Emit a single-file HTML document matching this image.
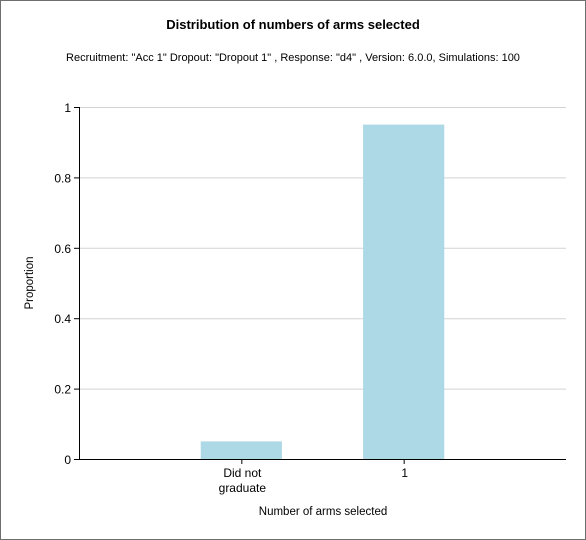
<!DOCTYPE html>
<html><head><meta charset="utf-8"><style>
html,body{margin:0;padding:0;background:#fff;}
svg{display:block;font-family:"Liberation Sans",sans-serif;}
</style></head><body>
<svg id="c" width="586" height="540">
<rect x="0.5" y="0.5" width="585" height="539" fill="#fff" stroke="#6e6e6e"/>
<text x="293" y="29" text-anchor="middle" font-size="13" font-weight="bold" fill="#000">Distribution of numbers of arms selected</text>
<text x="293" y="61" text-anchor="middle" font-size="11" fill="#000">Recruitment: "Acc 1" Dropout: "Dropout 1" , Response: "d4" , Version: 6.0.0, Simulations: 100</text>
<text transform="translate(33,283) rotate(-90)" text-anchor="middle" font-size="11.5">Proportion</text>
<text x="323" y="515" text-anchor="middle" font-size="11.5">Number of arms selected</text>
<g id="g"></g>
</svg>
<script>
const categories = [["Did not","graduate"],["1"]];
const values = [0.05, 0.95];
const yTicks = [0, 0.2, 0.4, 0.6, 0.8, 1];
const yTickLabels = ["0","0.2","0.4","0.6","0.8","1"];
const NS = "http://www.w3.org/2000/svg";
const g = document.getElementById('g');
const L = 79, R = 566, T = 107, B = 459;
const slot = (R - L) / (categories.length + 1);
function y(v){ return B - v * (B - T); }
function x(i){ return L + slot * (i + 1); }
function mk(tag, attrs){ const e = document.createElementNS(NS, tag); for (const k in attrs) e.setAttribute(k, attrs[k]); g.appendChild(e); return e; }
yTicks.forEach((t, i) => {
  if (t > 0) {
    const gl = mk('line', {x1:L, x2:R, y1:y(t)+0.5, y2:y(t)+0.5, stroke:'#d3d3d3'});
    
    
  }
  const tk = mk('line', {x1:L-5, x2:L, y1:y(t)+0.5, y2:y(t)+0.5, stroke:'#000'});
  
  
  const tx = mk('text', {x:L-8, y:y(t)+5, 'text-anchor':'end', 'font-size':12});
  tx.textContent = yTickLabels[i];
  
  
});
values.forEach((v, i) => {
  const w = slot / 2;
  const b = mk('rect', {x:x(i)-w/2, y:y(v), width:w, height:B-y(v), fill:'#add8e6'});
  
  
  const tk = mk('line', {x1:x(i)+0.5, x2:x(i)+0.5, y1:B, y2:B+5, stroke:'#000'});
  
  
  categories[i].forEach((s, j) => {
    const tx = mk('text', {x:x(i)+1, y:B+18+j*15, 'text-anchor':'middle', 'font-size':12});
    tx.textContent = s;
    
    
  });
});
const ya = mk('line', {x1:L+0.5, x2:L+0.5, y1:T, y2:B, stroke:'#000'});


const xa = mk('line', {x1:L, x2:R, y1:B+0.5, y2:B+0.5, stroke:'#000'});


</script>
</body></html>
